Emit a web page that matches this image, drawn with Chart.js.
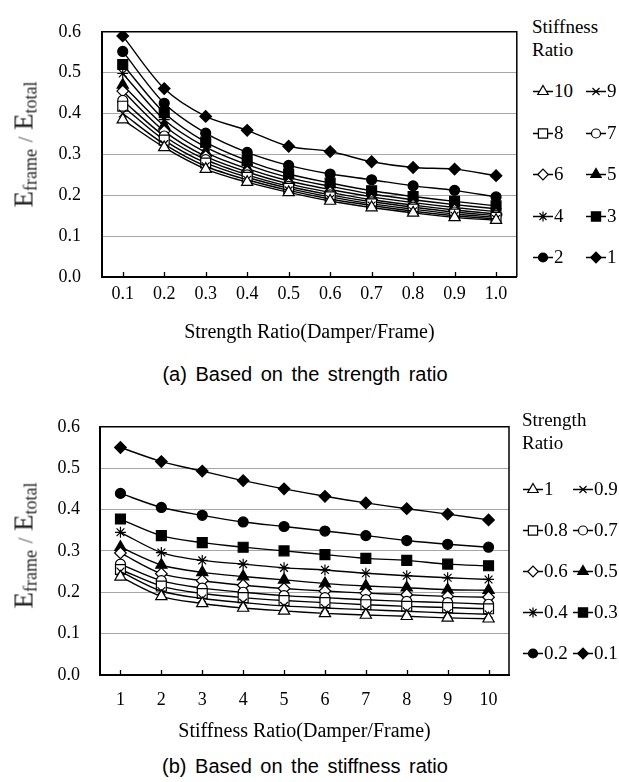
<!DOCTYPE html>
<html>
<head>
<meta charset="utf-8">
<script src="https://cdn.jsdelivr.net/npm/chart.js@4.4.1/dist/chart.umd.min.js"></script>
<style>
  body { margin: 0; background: #fff; }
  #page { position: relative; width: 619px; height: 782px; overflow: hidden; background: #fff; }
  canvas.plot { position: absolute; left: 0; }
  .ytitle { position: absolute; width: 220px; text-align: center; font-family: "Liberation Serif", serif; font-weight: 400; font-size: 27px; line-height: 30px; color: #222; transform: rotate(-90deg); white-space: nowrap; }
  .ytitle sub { font-size: 18px; vertical-align: -4px; }
  .ytitle .sl { font-size: 20px; color: #555; }
  .legtitle { position: absolute; font-family: "Liberation Serif", serif; font-size: 19px; line-height: 23px; color: #000; }
  .legitem { position: absolute; height: 20px; display: flex; align-items: center; font-family: "Liberation Serif", serif; font-size: 19px; color: #000; white-space: nowrap; }
  .legitem canvas { display: block; margin-right: 1px; }
  .caption { position: absolute; left: 0; width: 610px; text-align: center; font-family: "Liberation Sans", Arial, sans-serif; font-size: 20px; word-spacing: 3px; color: #000; }
</style>
</head>
<body>
<div id="page">
  <canvas id="chartA" class="plot" width="525" height="345" style="top:0"></canvas>
  <div class="ytitle" style="left:-83px; top:126px">E<sub>frame</sub> <span class="sl">/</span> E<sub>total</sub></div>
  <div class="legtitle" style="left:532px; top:15px">Stiffness<br>Ratio</div>
  <div id="legendA"></div>
  <div class="caption" style="top:363px">(a) Based on the strength ratio</div>

  <canvas id="chartB" class="plot" width="525" height="350" style="top:396px"></canvas>
  <div class="ytitle" style="left:-83px; top:527px">E<sub>frame</sub> <span class="sl">/</span> E<sub>total</sub></div>
  <div class="legtitle" style="left:522px; top:408px">Strength<br>Ratio</div>
  <div id="legendB"></div>
  <div class="caption" style="top:755px">(b) Based on the stiffness ratio</div>
</div>
<script>
// x categories
const strengthLabels = ["0.1", "0.2", "0.3", "0.4", "0.5", "0.6", "0.7", "0.8", "0.9", "1.0"];
const stiffnessLabels = ["1", "2", "3", "4", "5", "6", "7", "8", "9", "10"];
const yTicks = [0, 0.1, 0.2, 0.3, 0.4, 0.5, 0.6];

// (a) Eframe/Etotal vs strength ratio, one line per stiffness ratio
const stiff10 = [0.385, 0.317, 0.264, 0.232, 0.207, 0.186, 0.170, 0.157, 0.146, 0.139];
const stiff9 = [0.400, 0.325, 0.271, 0.238, 0.212, 0.191, 0.175, 0.161, 0.150, 0.142];
const stiff8 = [0.418, 0.335, 0.279, 0.244, 0.217, 0.196, 0.179, 0.166, 0.154, 0.146];
const stiff7 = [0.432, 0.345, 0.287, 0.250, 0.222, 0.201, 0.184, 0.171, 0.159, 0.150];
const stiff6 = [0.455, 0.357, 0.295, 0.257, 0.228, 0.207, 0.189, 0.176, 0.164, 0.154];
const stiff5 = [0.470, 0.370, 0.305, 0.265, 0.235, 0.214, 0.196, 0.182, 0.170, 0.160];
const stiff4 = [0.498, 0.385, 0.318, 0.275, 0.243, 0.222, 0.203, 0.189, 0.177, 0.167];
const stiff3 = [0.520, 0.402, 0.330, 0.285, 0.252, 0.230, 0.211, 0.197, 0.185, 0.174];
const stiff2 = [0.552, 0.425, 0.352, 0.305, 0.273, 0.252, 0.238, 0.223, 0.212, 0.196];
const stiff1 = [0.590, 0.461, 0.393, 0.359, 0.320, 0.307, 0.282, 0.268, 0.264, 0.248];

// (b) Eframe/Etotal vs stiffness ratio, one line per strength ratio
const str10 = [0.237, 0.190, 0.173, 0.162, 0.155, 0.149, 0.145, 0.142, 0.138, 0.136];
const str09 = [0.250, 0.203, 0.185, 0.175, 0.167, 0.162, 0.158, 0.154, 0.150, 0.147];
const str08 = [0.255, 0.215, 0.197, 0.187, 0.180, 0.175, 0.170, 0.166, 0.163, 0.160];
const str07 = [0.268, 0.228, 0.210, 0.200, 0.192, 0.187, 0.182, 0.178, 0.175, 0.171];
const str06 = [0.295, 0.245, 0.228, 0.217, 0.209, 0.203, 0.198, 0.194, 0.190, 0.188];
const str05 = [0.309, 0.266, 0.248, 0.238, 0.230, 0.221, 0.215, 0.211, 0.206, 0.205];
const str04 = [0.345, 0.296, 0.277, 0.268, 0.259, 0.254, 0.246, 0.240, 0.235, 0.231];
const str03 = [0.377, 0.337, 0.320, 0.309, 0.300, 0.291, 0.282, 0.277, 0.268, 0.264];
const str02 = [0.439, 0.405, 0.386, 0.370, 0.359, 0.348, 0.337, 0.325, 0.316, 0.309];
const str01 = [0.550, 0.516, 0.493, 0.470, 0.450, 0.432, 0.416, 0.402, 0.389, 0.375];

const seriesA = [
  { label: "10", data: stiff10, marker: "triangle", filled: false },
  { label: "9", data: stiff9, marker: "crossRot", filled: false },
  { label: "8", data: stiff8, marker: "rect", filled: false },
  { label: "7", data: stiff7, marker: "circle", filled: false },
  { label: "6", data: stiff6, marker: "rectRot", filled: false },
  { label: "5", data: stiff5, marker: "triangle", filled: true },
  { label: "4", data: stiff4, marker: "star", filled: false },
  { label: "3", data: stiff3, marker: "rect", filled: true },
  { label: "2", data: stiff2, marker: "circle", filled: true },
  { label: "1", data: stiff1, marker: "rectRot", filled: true },
];
const seriesB = [
  { label: "1", data: str10, marker: "triangle", filled: false },
  { label: "0.9", data: str09, marker: "crossRot", filled: false },
  { label: "0.8", data: str08, marker: "rect", filled: false },
  { label: "0.7", data: str07, marker: "circle", filled: false },
  { label: "0.6", data: str06, marker: "rectRot", filled: false },
  { label: "0.5", data: str05, marker: "triangle", filled: true },
  { label: "0.4", data: str04, marker: "star", filled: false },
  { label: "0.3", data: str03, marker: "rect", filled: true },
  { label: "0.2", data: str02, marker: "circle", filled: true },
  { label: "0.1", data: str01, marker: "rectRot", filled: true },
];

const markerSize = { triangle: 6.5, crossRot: 5.5, rect: 7, circle: 5, rectRot: 5.8, star: 5.5 };
const serif = "'Liberation Serif', 'Times New Roman', serif";

// top/right frame and the small inward ticks on the x axis
const frameBorder = {
  id: "frameBorder",
  afterDatasetsDraw(chart) {
    const { ctx, chartArea: a, scales } = chart;
    const x = scales.x;
    ctx.save();
    ctx.strokeStyle = "#000";
    ctx.lineWidth = 1.5;
    ctx.beginPath();
    ctx.moveTo(a.left, a.top);
    ctx.lineTo(a.right, a.top);
    ctx.lineTo(a.right, a.bottom);
    ctx.stroke();
    ctx.lineWidth = 1.3;
    ctx.beginPath();
    x.ticks.forEach(function (t, i) {
      const px = Math.round(x.getPixelForTick(i)) + 0.5;
      ctx.moveTo(px, a.bottom);
      ctx.lineTo(px, a.bottom - 5);
    });
    ctx.stroke();
    ctx.restore();
  },
};

function makeDatasets(series) {
  return series.map(function (s) {
    return {
      label: s.label,
      data: s.data,
      borderColor: "#000",
      borderWidth: 1.4,
      tension: 0.3,
      pointStyle: s.marker,
      pointRadius: markerSize[s.marker],
      pointBorderWidth: 1.2,
      pointBorderColor: "#000",
      pointBackgroundColor: s.filled ? "#000" : "#fff",
      fill: false,
    };
  });
}

function makeChart(id, labels, series, opt) {
  const ctx = document.getElementById(id).getContext("2d");
  return new Chart(ctx, {
    type: "line",
    data: { labels: labels, datasets: makeDatasets(series) },
    options: {
      responsive: false,
      animation: false,
      devicePixelRatio: 1,
      layout: { padding: { top: 14, right: opt.right, left: 0, bottom: 0 } },
      plugins: { legend: { display: false }, tooltip: { enabled: false } },
      scales: {
        x: {
          type: "category",
          offset: true,
          grid: { drawOnChartArea: false, drawTicks: false },
          border: { color: "#000", width: 2 },
          ticks: { color: "#000", font: { family: serif, size: 18 }, padding: opt.tickPad, maxRotation: 0, autoSkip: false },
          title: { display: true, text: opt.xTitle, color: "#000", font: { family: serif, size: 20 }, padding: { top: 0, bottom: opt.titlePad } },
          afterFit(scale) { scale.height = opt.xHeight; },
        },
        y: {
          min: yTicks[0],
          max: yTicks[yTicks.length - 1],
          afterBuildTicks(scale) { scale.ticks = yTicks.map((v) => ({ value: v })); },
          ticks: { color: "#000", font: { family: serif, size: 18 }, padding: opt.yPad, callback: (v) => Number(v).toFixed(1) },
          grid: { color: "#a6a6a6", lineWidth: 1, drawTicks: false },
          border: { color: "#000", width: 2 },
          afterFit(scale) { scale.width = opt.yWidth; },
        },
      },
    },
    plugins: [frameBorder],
  });
}

makeChart("chartA", strengthLabels, seriesA, {
  right: 8, yWidth: 102, xHeight: 68, tickPad: 6, titlePad: 0, yPad: 21,
  xTitle: "Strength Ratio(Damper/Frame)",
});
makeChart("chartB", stiffnessLabels, seriesB, {
  right: 16, yWidth: 100, xHeight: 71, tickPad: 14, titlePad: 2, yPad: 20,
  xTitle: "Stiffness Ratio(Damper/Frame)",
});

// legends: two columns, line segment with marker, then the label
function buildLegend(holderId, series, left1, left2, top, rowGap) {
  const holder = document.getElementById(holderId);
  series.forEach(function (s, i) {
    const item = document.createElement("div");
    item.className = "legitem";
    item.style.left = (i % 2 === 0 ? left1 : left2) + "px";
    item.style.top = top + Math.floor(i / 2) * rowGap - 10 + "px";
    const c = document.createElement("canvas");
    c.width = 20;
    c.height = 20;
    const g = c.getContext("2d");
    g.strokeStyle = "#000";
    g.lineWidth = 1.5;
    g.beginPath();
    g.moveTo(0, 10.5);
    g.lineTo(20, 10.5);
    g.stroke();
    g.fillStyle = s.filled ? "#000" : "#fff";
    g.lineWidth = 1.2;
    Chart.helpers.drawPoint(g, { pointStyle: s.marker, radius: markerSize[s.marker] - 0.5, rotation: 0, borderWidth: 1.2 }, 10, 10.5);
    item.appendChild(c);
    const t = document.createElement("span");
    t.textContent = s.label;
    item.appendChild(t);
    holder.appendChild(item);
  });
}
buildLegend("legendA", seriesA, 533, 586, 91, 41.5);
buildLegend("legendB", seriesB, 523, 573, 489, 41);
</script>
</body>
</html>
